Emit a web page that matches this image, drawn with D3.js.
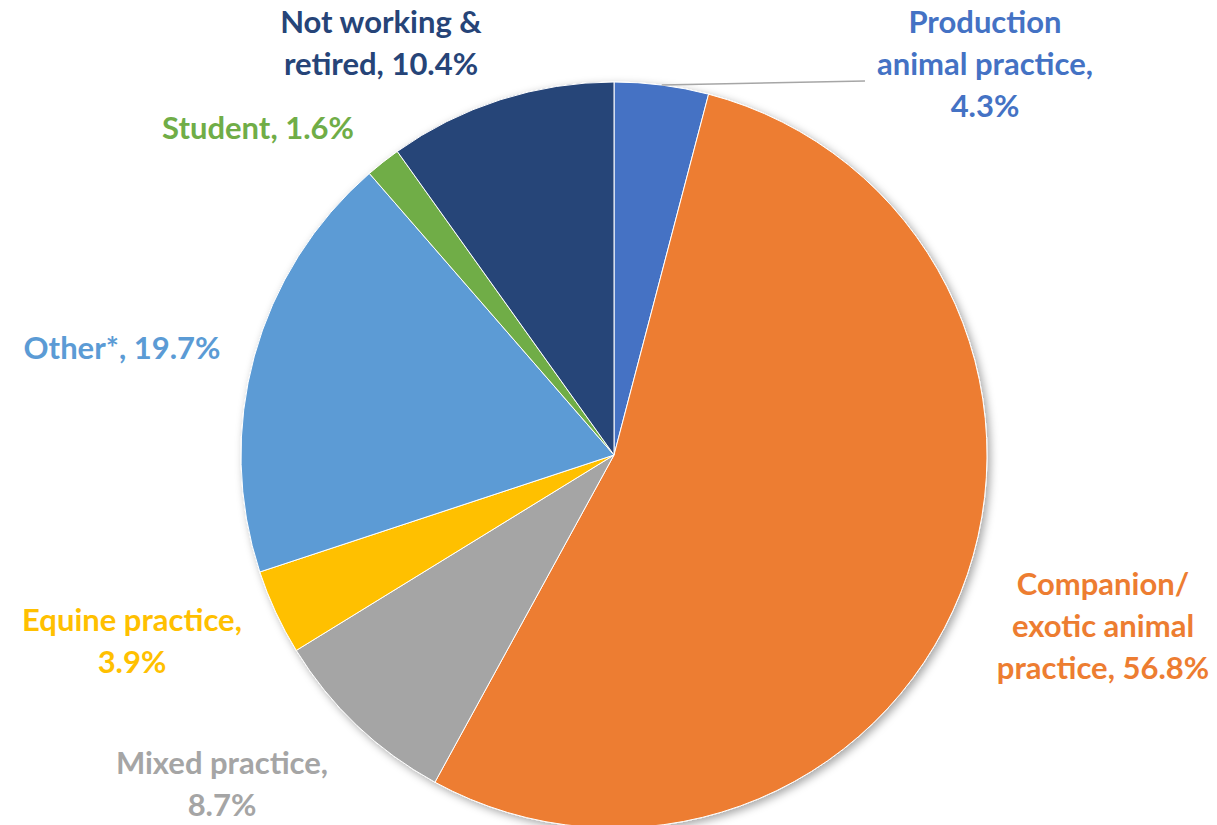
<!DOCTYPE html>
<html>
<head>
<meta charset="utf-8">
<script src="https://cdn.jsdelivr.net/npm/d3@7"></script>
<style>
  html, body { margin: 0; padding: 0; background: #fff; }
  svg { display: block; }
  text { font-family: Lato, "Open Sans", sans-serif; font-weight: 700; }
</style>
</head>
<body>
<div id="chart"></div>
<script>
const categories = ['Production animal practice', 'Companion/ exotic animal practice', 'Mixed practice',
    'Equine practice', 'Other*', 'Student', 'Not working & retired']
const values = [4.3, 56.8, 8.7, 3.9, 19.7, 1.6, 10.4]
const colors = ['#4472C4', '#ED7D31', '#A5A5A5', '#FFC000', '#5B9BD5', '#70AD47', '#264478']
// label lines as drawn in the picture
const labelLines = [
    ['Production', 'animal practice,', '4.3%'],
    ['Companion/', 'exotic animal', 'practice, 56.8%'],
    ['Mixed practice,', '8.7%'],
    ['Equine practice,', '3.9%'],
    ['Other*, 19.7%'],
    ['Student, 1.6%'],
    ['Not working &', 'retired, 10.4%']
]

const width = 1217
const height = 825
const cx = 614
const cy = 455
const radius = 373
const lineHeight = 42

// label block centres (layout only)
const labelPos = [[985, 22], [1103, 584], [222, 763], [132, 620], [122, 348], [258, 128], [381, 22]]

const svg = d3.select('#chart')
    .append('svg')
    .attr('width', width)
    .attr('height', height)

const defs = svg.append('defs')
const shadow = defs.append('filter')
    .attr('id', 'shadow')
    .attr('x', '-10%').attr('y', '-10%')
    .attr('width', '120%').attr('height', '120%')
shadow.append('feDropShadow')
    .attr('dx', 3).attr('dy', 3)
    .attr('stdDeviation', 4)
    .attr('flood-color', '#000')
    .attr('flood-opacity', 0.35)

const pie = d3.pie().sort(null).value(d => d)
const arcs = pie(values)
const arc = d3.arc().innerRadius(0).outerRadius(radius)

const g = svg.append('g')
    .attr('transform', `translate(${cx}, ${cy})`)

g.append('g')
    .attr('filter', 'url(#shadow)')
    .selectAll('path')
    .data(arcs)
    .enter()
    .append('path')
    .attr('d', arc)
    .attr('fill', (d, i) => colors[i])
    .attr('stroke', '#fff')
    .attr('stroke-width', 1)

// leader line for the production slice
const a0 = (arcs[0].startAngle + arcs[0].endAngle) / 2
svg.append('line')
    .attr('x1', cx + radius * Math.sin(a0))
    .attr('y1', cy - radius * Math.cos(a0))
    .attr('x2', 865)
    .attr('y2', 81)
    .attr('stroke', '#A6A6A6')
    .attr('stroke-width', 1.5)

// labels
categories.forEach((c, i) => {
    const t = svg.append('text')
        .attr('text-anchor', 'middle')
        .attr('font-size', 31)
        .attr('fill', colors[i])
    labelLines[i].forEach((line, j) => {
        t.append('tspan')
            .attr('x', labelPos[i][0])
            .attr('y', labelPos[i][1] + j * lineHeight)
            .attr('dy', '0.35em')
            .text(line)
    })
})
</script>
</body>
</html>
